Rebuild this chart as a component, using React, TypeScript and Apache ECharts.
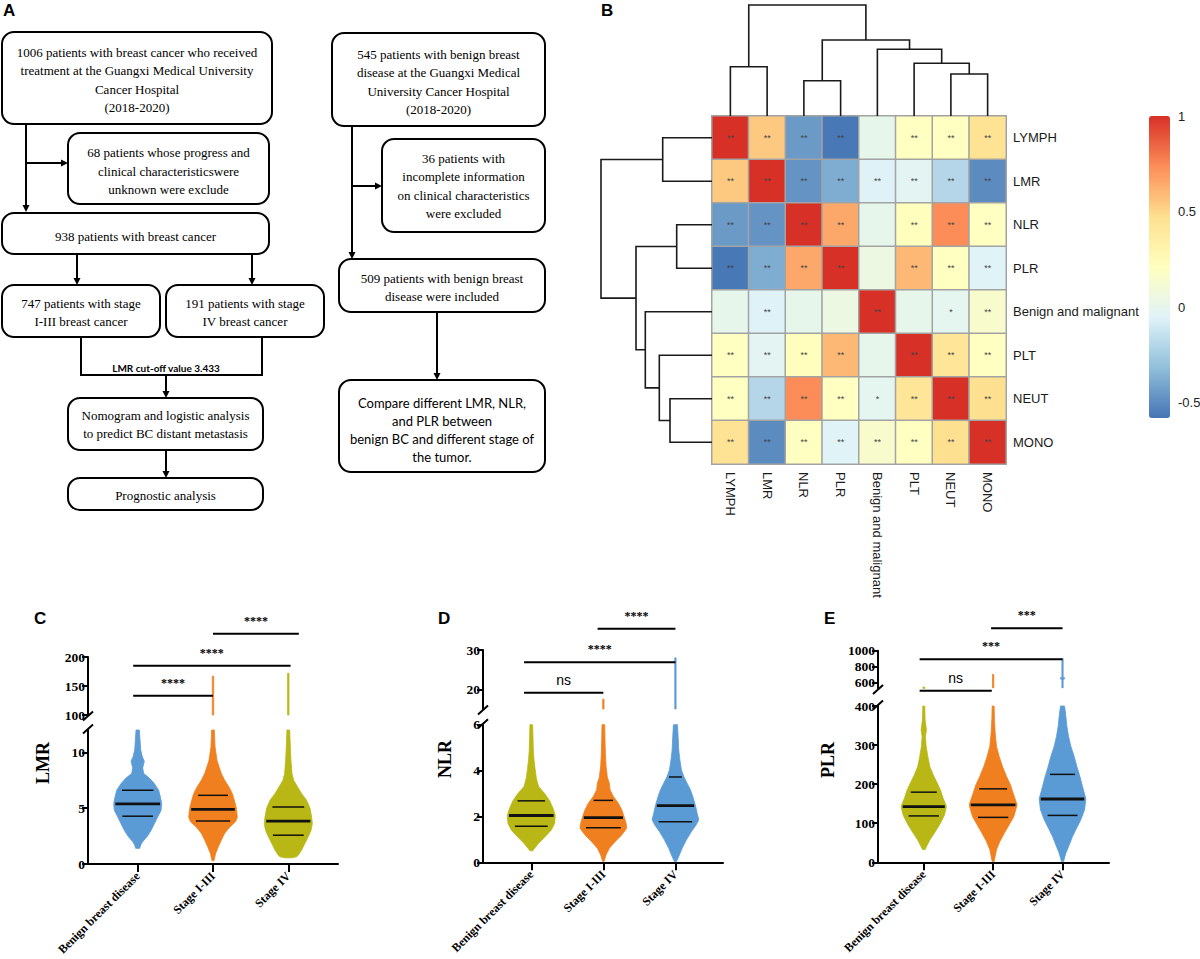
import React, { useEffect, useRef } from 'react';
import * as echarts from 'echarts';

// ---------------- fonts & colours ----------------
const SERIF = '"Liberation Serif","Times New Roman",serif';
const SANS = '"Liberation Sans",Arial,sans-serif';
const CALIBRI = 'Lato,"Liberation Sans",sans-serif';
const BLUE = '#5b9bd5';
const ORANGE = '#f07f1f';
const OLIVE = '#b8b716';

// ---------------- Panel A : flowchart texts ----------------
const flowTexts = [
  '1006 patients with breast cancer who received\ntreatment at the Guangxi Medical University\nCancer Hospital\n(2018-2020)',
  '68 patients whose progress and\nclinical characteristicswere\nunknown were exclude',
  '938 patients with breast cancer',
  '747 patients with stage\nI-III breast cancer',
  '191 patients with stage\nIV breast cancer',
  'Nomogram and logistic analysis\nto predict BC distant metastasis',
  'Prognostic analysis',
  '545 patients with benign breast\ndisease at the Guangxi Medical\nUniversity Cancer Hospital\n(2018-2020)',
  '36 patients with\nincomplete information\non clinical characteristics\nwere excluded',
  '509 patients with benign breast\ndisease were included',
  'Compare different LMR, NLR,\nand PLR between\nbenign BC and different stage of\nthe tumor.',
];
const cutoffText = 'LMR cut-off value 3.433';

// ---------------- Panel B : correlation heatmap ----------------
const heatVars = ['LYMPH', 'LMR', 'NLR', 'PLR', 'Benign and malignant', 'PLT', 'NEUT', 'MONO'];
const corrRows = [
  [1.0, 0.55, -0.45, -0.57, 0.01, 0.2, 0.2, 0.45],
  [0.55, 1.0, -0.47, -0.38, -0.06, -0.03, -0.2, -0.5],
  [-0.45, -0.47, 1.0, 0.65, 0.01, 0.22, 0.74, 0.2],
  [-0.57, -0.38, 0.65, 1.0, 0.05, 0.6, 0.2, -0.05],
  [0.01, -0.06, 0.01, 0.05, 1.0, 0.01, -0.01, 0.15],
  [0.2, -0.03, 0.22, 0.6, 0.01, 1.0, 0.43, 0.2],
  [0.2, -0.2, 0.74, 0.2, -0.01, 0.43, 1.0, 0.47],
  [0.45, -0.5, 0.2, -0.05, 0.15, 0.2, 0.47, 1.0],
];
const starRows = [
  ['**', '**', '**', '**', '', '**', '**', '**'],
  ['**', '**', '**', '**', '**', '**', '**', '**'],
  ['**', '**', '**', '**', '', '**', '**', '**'],
  ['**', '**', '**', '**', '', '**', '**', '**'],
  ['', '**', '', '', '**', '', '*', '**'],
  ['**', '**', '**', '**', '', '**', '**', '**'],
  ['**', '**', '**', '**', '*', '**', '**', '**'],
  ['**', '**', '**', '**', '**', '**', '**', '**'],
];
const colorbarRange = [-0.58, 1];
const colorbarTicks = [1, 0.5, 0, -0.5];
const heatColors = ['#4575B4', '#91BFDB', '#E0F3F8', '#FFFFBF', '#FEE090', '#FC8D59', '#D73027'];
// merges: [child A, child B, height]; leaves 0..7, merged nodes numbered from 8
const dendroMerges = [
  [2, 3, 35.3],
  [6, 7, 42],
  [0, 1, 49.3],
  [5, 9, 52.7],
  [4, 11, 66.7],
  [8, 12, 76],
  [10, 13, 111],
];
const dendroMax = 111;

// ---------------- Panels C, D, E : violins ----------------
const violinGroups = ['Benign breast disease', 'Stage I-III', 'Stage IV'];

// profiles: [value, half width in category units]
const lmrLow = [
  [[1.4, 0.027], [1.7, 0.04], [2.0, 0.066], [2.45, 0.124], [3.0, 0.177], [3.6, 0.221], [4.2, 0.265], [4.8, 0.31], [5.4, 0.319], [6.0, 0.301], [6.6, 0.279], [7.2, 0.221], [7.7, 0.155], [8.1, 0.08], [8.6, 0.066], [9.2, 0.088], [9.6, 0.062], [10.2, 0.04], [11.1, 0.031], [12, 0.022]],
  [[0.3, 0.013], [0.95, 0.035], [1.55, 0.071], [2.15, 0.111], [2.75, 0.155], [3.3, 0.221], [3.8, 0.301], [4.2, 0.323], [5.0, 0.31], [5.7, 0.283], [6.3, 0.257], [6.9, 0.212], [7.5, 0.155], [8.1, 0.111], [8.7, 0.08], [9.3, 0.053], [10.5, 0.027], [12, 0.018]],
  [[0.55, 0.044], [0.65, 0.11], [0.8, 0.135], [1.25, 0.177], [1.85, 0.221], [2.45, 0.265], [3.0, 0.301], [3.6, 0.319], [4.2, 0.31], [5.0, 0.288], [5.7, 0.243], [6.3, 0.177], [6.9, 0.124], [7.5, 0.071], [8.1, 0.049], [9.3, 0.035], [10.5, 0.027], [12, 0.018]],
];
const lmrUp = [[], [[100, 0.009], [167, 0.009]], [[100, 0.009], [172, 0.009]]];
const lmrQuartiles = [[4.28, 5.39, 6.6], [3.86, 4.9, 6.15], [2.58, 3.84, 5.1]];
const lmrBrackets = [[-0.06, 1.0, 133, '****'], [-0.06, 2.03, 185, '****'], [1.0, 2.14, 240, '****']];
const lmrLowTicks = [0, 5, 10];
const lmrUpTicks = [100, 150, 200];

const nlrLow = [
  [[0.5, 0.019], [0.61, 0.046], [0.83, 0.102], [1.12, 0.194], [1.41, 0.278], [1.7, 0.324], [2.04, 0.333], [2.36, 0.301], [2.68, 0.255], [3.0, 0.185], [3.3, 0.102], [3.5, 0.083], [3.7, 0.069], [4.1, 0.051], [4.5, 0.037], [4.9, 0.028], [5.5, 0.023], [6.0, 0.019]],
  [[0.03, 0.009], [0.32, 0.037], [0.61, 0.083], [0.9, 0.162], [1.19, 0.255], [1.48, 0.324], [1.7, 0.315], [2.0, 0.287], [2.29, 0.255], [2.58, 0.208], [2.87, 0.139], [3.16, 0.093], [3.45, 0.083], [3.7, 0.056], [4.2, 0.037], [4.75, 0.028], [5.3, 0.023], [6.0, 0.019]],
  [[0.03, 0.014], [0.25, 0.046], [0.61, 0.093], [0.98, 0.153], [1.34, 0.222], [1.63, 0.287], [1.85, 0.324], [2.14, 0.301], [2.47, 0.278], [2.87, 0.241], [3.16, 0.208], [3.45, 0.162], [3.74, 0.116], [4.03, 0.083], [4.5, 0.06], [4.9, 0.046], [5.5, 0.037], [6.0, 0.028]],
];
const nlrUp = [[], [[15, 0.009], [17.5, 0.009]], [[15, 0.009], [28, 0.009]]];
const nlrQuartiles = [[1.57, 2.04, 2.68], [1.51, 1.95, 2.7], [1.77, 2.47, 3.72]];
const nlrBrackets = [[-0.1, 1.0, 19.1, 'ns'], [-0.1, 2.0, 26.9, '****'], [0.92, 2.0, 35.4, '****']];
const nlrLowTicks = [0, 2, 4, 6];
const nlrUpTicks = [20, 30];

const plrLow = [
  [[33, 0.019], [40, 0.038], [57, 0.087], [79, 0.168], [100, 0.24], [121, 0.298], [143, 0.327], [164, 0.279], [185, 0.24], [207, 0.183], [224, 0.135], [245, 0.087], [271, 0.058], [297, 0.034], [322, 0.024], [339, 0.038], [365, 0.019], [400, 0.014]],
  [[2, 0.014], [32, 0.048], [53, 0.096], [74, 0.159], [96, 0.231], [117, 0.298], [147, 0.346], [177, 0.288], [198, 0.25], [220, 0.192], [245, 0.135], [271, 0.087], [297, 0.048], [331, 0.029], [365, 0.019], [400, 0.014]],
  [[2, 0.014], [23, 0.048], [44, 0.096], [66, 0.144], [87, 0.202], [109, 0.264], [134, 0.317], [162, 0.337], [194, 0.288], [220, 0.25], [245, 0.207], [271, 0.168], [297, 0.12], [322, 0.087], [348, 0.063], [374, 0.048], [400, 0.029]],
];
const plrUp = [
  [[522, 0.012], [540, 0.012]],
  [[530, 0.009], [700, 0.009]],
  [[530, 0.009], [635, 0.009], [642, 0.03], [658, 0.03], [665, 0.009], [900, 0.009]],
];
const plrQuartiles = [[118.7, 142.6, 179.5], [115, 147, 188], [120, 162, 225]];
const plrBrackets = [[-0.06, 0.98, 494, 'ns'], [-0.06, 2.0, 891, '***'], [0.97, 2.0, 1283, '***']];
const plrLowTicks = [0, 100, 200, 300, 400];
const plrUpTicks = [600, 800, 1000];

// ---------------- layout (pixels) ----------------
const flowLayout = [
  { x: 2, y: 32, w: 270, h: 92, cy: 80, font: 'serif' },
  { x: 68, y: 133, w: 201, h: 71, cy: 171, font: 'serif' },
  { x: 2, y: 213, w: 267, h: 41, cy: 236, font: 'serif' },
  { x: 2, y: 285, w: 158, h: 52, cy: 312.5, font: 'serif' },
  { x: 166, y: 285, w: 158, h: 52, cy: 312.5, font: 'serif' },
  { x: 68, y: 398, w: 195, h: 52, cy: 424.5, font: 'serif' },
  { x: 68, y: 478, w: 195, h: 32, cy: 495, font: 'serif' },
  { x: 332, y: 33, w: 213, h: 93, cy: 82, font: 'serif' },
  { x: 382, y: 139, w: 163, h: 93, cy: 186, font: 'serif' },
  { x: 339, y: 259, w: 206, h: 53, cy: 287.5, font: 'serif' },
  { x: 339, y: 380, w: 206, h: 92, cy: 430, font: 'sans' },
];
const flowArrows = [
  { pts: [[26, 124], [26, 212]], head: 'down' },
  { pts: [[26, 163], [68, 163]], head: 'right' },
  { pts: [[77, 254], [77, 285]], head: 'down' },
  { pts: [[252, 254], [252, 285]], head: 'down' },
  { pts: [[81, 337], [81, 375], [262, 375], [262, 337]], head: '' },
  { pts: [[166, 375], [166, 398]], head: 'down' },
  { pts: [[166, 450], [166, 478]], head: 'down' },
  { pts: [[352, 126], [352, 259]], head: 'down' },
  { pts: [[352, 186], [382, 186]], head: 'right' },
  { pts: [[437, 312], [437, 380]], head: 'down' },
];

const panels = [
  { name: 'LMR', letter: 'C', colors: [BLUE, ORANGE, OLIVE], low: lmrLow, up: lmrUp, quart: lmrQuartiles, brackets: lmrBrackets, lowTicks: lmrLowTicks, upTicks: lmrUpTicks, lowRange: [0, 12], upRange: [100, 200],
    axisX: 88, right: 338, lowTop: 730, lowBottom: 864, upTop: 657, upBottom: 715, xMin: -0.66, xMax: 2.66, titleX: 43, titleY: 763, letterX: 34, letterY: 610 },
  { name: 'NLR', letter: 'D', colors: [OLIVE, ORANGE, BLUE], low: nlrLow, up: nlrUp, quart: nlrQuartiles, brackets: nlrBrackets, lowTicks: nlrLowTicks, upTicks: nlrUpTicks, lowRange: [0, 6], upRange: [15, 30],
    axisX: 483, right: 723, lowTop: 724.7, lowBottom: 862.3, upTop: 650, upBottom: 709, xMin: -0.67, xMax: 2.66, titleX: 445, titleY: 759, letterX: 438, letterY: 610 },
  { name: 'PLR', letter: 'E', colors: [OLIVE, ORANGE, BLUE], low: plrLow, up: plrUp, quart: plrQuartiles, brackets: plrBrackets, lowTicks: plrLowTicks, upTicks: plrUpTicks, lowRange: [0, 400], upRange: [520, 1000],
    axisX: 878, right: 1109, lowTop: 706, lowBottom: 862.3, upTop: 650.7, upBottom: 688.6, xMin: -0.66, xMax: 2.67, titleX: 828, titleY: 760, letterX: 824, letterY: 610 },
];

function widthAt(prof: number[][], v: number) {
  for (let i = 0; i < prof.length - 1; i++) {
    const [v0, w0] = prof[i];
    const [v1, w1] = prof[i + 1];
    if (v >= v0 && v <= v1) return w0 + ((w1 - w0) * (v - v0)) / (v1 - v0 || 1);
  }
  return 0;
}

function violinRenderer(profiles: number[][][], quartiles: number[][] | null, colors: string[]) {
  return (params: any, api: any) => {
    const i = params.dataIndex;
    const prof = profiles[i];
    if (!prof || prof.length < 2) return { type: 'group', children: [] };
    const pts: number[][] = [];
    for (const [v, w] of prof) pts.push(api.coord([i - w, v]));
    for (let j = prof.length - 1; j >= 0; j--) pts.push(api.coord([i + prof[j][1], prof[j][0]]));
    const children: any[] = [
      { type: 'polygon', shape: { points: pts }, style: { fill: colors[i], stroke: colors[i], lineWidth: 0.8 } },
    ];
    if (quartiles) {
      quartiles[i].forEach((q, k) => {
        const w = widthAt(prof, q) * (k === 1 ? 0.93 : 0.75);
        const p1 = api.coord([i - w, q]);
        const p2 = api.coord([i + w, q]);
        children.push({
          type: 'line',
          shape: { x1: p1[0], y1: p1[1], x2: p2[0], y2: p2[1] },
          style: { stroke: '#111', lineWidth: k === 1 ? 2.8 : 1.5 },
        });
      });
    }
    return { type: 'group', children };
  };
}

function bracketRenderer(brackets: any[][]) {
  return (params: any, api: any) => {
    const [x1, x2, y, label] = brackets[params.dataIndex];
    const p1 = api.coord([x1, y]);
    const p2 = api.coord([x2, y]);
    const isNs = label === 'ns';
    return {
      type: 'group',
      children: [
        { type: 'line', shape: { x1: p1[0], y1: p1[1], x2: p2[0], y2: p2[1] }, style: { stroke: '#000', lineWidth: 2 } },
        {
          type: 'text',
          style: {
            text: label,
            x: (p1[0] + p2[0]) / 2,
            y: p1[1] - (isNs ? 6 : 7),
            align: 'center',
            verticalAlign: 'bottom',
            fontSize: isNs ? 14 : 12,
            fontFamily: isNs ? SANS : SERIF,
            fontWeight: isNs ? 'normal' : 'bold',
            fill: '#000',
            stroke: null,
            lineWidth: 0,
          },
        },
      ],
    };
  };
}

function buildOption() {
  const grids: any[] = [];
  const xAxes: any[] = [];
  const yAxes: any[] = [];
  const series: any[] = [];
  const graphics: any[] = [];
  const g = (o: any) => ({ ...o, containLabel: false, outerBoundsMode: 'none' });

  // ---- heatmap ----
  const hmLeft = 712, hmTop = 116, hmW = 294, hmH = 348;
  grids.push(g({ left: hmLeft, top: hmTop, width: hmW, height: hmH }));
  xAxes.push({
    gridIndex: 0, type: 'category', data: heatVars,
    axisLine: { show: false }, axisTick: { show: false }, splitLine: { show: false },
    axisLabel: { rotate: -90, margin: 8, fontSize: 13, fontFamily: SANS, color: '#1a1a1a', interval: 0 },
  });
  yAxes.push({
    gridIndex: 0, type: 'category', data: heatVars, inverse: true, position: 'right',
    axisLine: { show: false }, axisTick: { show: false }, splitLine: { show: false },
    axisLabel: { margin: 7, fontSize: 13, fontFamily: SANS, color: '#1a1a1a', interval: 0 },
  });
  const heatData: number[][] = [];
  corrRows.forEach((row, y) => row.forEach((v, x) => heatData.push([x, y, v])));
  series.push({
    type: 'heatmap', xAxisIndex: 0, yAxisIndex: 0, data: heatData, z: 2,
    itemStyle: { borderColor: '#a3a3a3', borderWidth: 1.5 },
    label: {
      show: true, fontSize: 9, color: '#444', fontFamily: SANS,
      formatter: (p: any) => starRows[p.data[1]][p.data[0]],
    },
    emphasis: { disabled: true },
  });

  // ---- dendrograms ----
  const nodePos: number[] = [0, 1, 2, 3, 4, 5, 6, 7];
  const nodeH: number[] = [0, 0, 0, 0, 0, 0, 0, 0];
  dendroMerges.forEach(([a, b, h]) => {
    nodePos.push((nodePos[a] + nodePos[b]) / 2);
    nodeH.push(h);
  });
  grids.push(g({ left: hmLeft, top: hmTop - dendroMax, width: hmW, height: dendroMax }));
  xAxes.push({ gridIndex: 1, type: 'value', min: -0.5, max: 7.5, show: false });
  yAxes.push({ gridIndex: 1, type: 'value', min: 0, max: dendroMax, show: false });
  grids.push(g({ left: hmLeft - dendroMax, top: hmTop, width: dendroMax, height: hmH }));
  xAxes.push({ gridIndex: 2, type: 'value', min: 0, max: dendroMax, inverse: true, show: false });
  yAxes.push({ gridIndex: 2, type: 'value', min: -0.5, max: 7.5, inverse: true, show: false });
  const dendroItem = (flip: boolean) => (params: any, api: any) => {
    const [a, b, h] = dendroMerges[params.dataIndex];
    const raw = [[nodePos[a], nodeH[a]], [nodePos[a], h], [nodePos[b], h], [nodePos[b], nodeH[b]]];
    const pts = raw.map((p) => api.coord(flip ? [p[1], p[0]] : p));
    return { type: 'polyline', shape: { points: pts }, style: { stroke: '#1a1a1a', lineWidth: 1.6, fill: null } };
  };
  series.push({ type: 'custom', xAxisIndex: 1, yAxisIndex: 1, data: dendroMerges.map((m, i) => [i, 0]), renderItem: dendroItem(false), clip: false, silent: true });
  series.push({ type: 'custom', xAxisIndex: 2, yAxisIndex: 2, data: dendroMerges.map((m, i) => [0, i]), renderItem: dendroItem(true), clip: false, silent: true });

  // colour bar labels
  const cbTop = 116, cbH = 302, cbLeft = 1149;
  colorbarTicks.forEach((v) => {
    graphics.push({
      type: 'text', x: 1178, y: cbTop + ((colorbarRange[1] - v) / (colorbarRange[1] - colorbarRange[0])) * cbH,
      style: { text: String(v), fontSize: 13, fontFamily: SANS, fill: '#222', align: 'left', verticalAlign: 'middle' },
    });
  });

  // ---- violin panels ----
  panels.forEach((p, k) => {
    const lo = 3 + 2 * k;
    const up = 4 + 2 * k;
    const w = p.right - p.axisX;
    grids.push(g({ left: p.axisX, top: p.lowTop, width: w, height: p.lowBottom - p.lowTop }));
    grids.push(g({ left: p.axisX, top: p.upTop, width: w, height: p.upBottom - p.upTop }));
    xAxes.push({
      gridIndex: lo, type: 'value', min: p.xMin, max: p.xMax,
      axisLine: { show: true, onZero: false, lineStyle: { color: '#000', width: 2 } },
      axisTick: { show: true, customValues: [0, 1, 2], length: 8, lineStyle: { color: '#000', width: 2 } },
      axisLabel: {
        customValues: [0, 1, 2], formatter: (v: number) => violinGroups[Math.round(v)] || '',
        rotate: 45, margin: 10, fontSize: 12, fontFamily: SERIF, fontWeight: 'bold', color: '#000',
      },
      splitLine: { show: false },
    });
    xAxes.push({ gridIndex: up, type: 'value', min: p.xMin, max: p.xMax, show: false });
    const yAx = (gi: number, range: number[], ticks: number[]) => ({
      gridIndex: gi, type: 'value', min: range[0], max: range[1],
      axisLine: { show: true, onZero: false, lineStyle: { color: '#000', width: 2 } },
      axisTick: { show: true, customValues: ticks, length: 6, lineStyle: { color: '#000', width: 2 } },
      axisLabel: {
        customValues: ticks, formatter: (v: number) => String(v),
        margin: 3, fontSize: 13.5, fontFamily: SERIF, fontWeight: 'bold', color: '#000',
      },
      splitLine: { show: false },
    });
    yAxes.push(yAx(lo, p.lowRange, p.lowTicks));
    yAxes.push(yAx(up, p.upRange, p.upTicks));

    series.push({
      type: 'custom', xAxisIndex: lo, yAxisIndex: lo, data: [0, 1, 2].map((i) => [i, p.lowRange[0]]),
      renderItem: violinRenderer(p.low, p.quart, p.colors), clip: false, silent: true, z: 3,
    });
    series.push({
      type: 'custom', xAxisIndex: up, yAxisIndex: up, data: [0, 1, 2].map((i) => [i, p.upRange[0]]),
      renderItem: violinRenderer(p.up, null, p.colors), clip: false, silent: true, z: 3,
    });
    series.push({
      type: 'custom', xAxisIndex: up, yAxisIndex: up, data: p.brackets.map((b, i) => [i, p.upRange[0]]),
      renderItem: bracketRenderer(p.brackets), clip: false, silent: true, z: 4,
      itemStyle: { color: '#000' },
    });

    // break marks
    [p.upBottom + 1, p.lowTop - 1].forEach((yy) => {
      graphics.push({
        type: 'line', shape: { x1: p.axisX - 5, y1: yy + 4.5, x2: p.axisX + 5, y2: yy - 4.5 },
        style: { stroke: '#000', lineWidth: 2 },
      });
    });
    graphics.push({
      type: 'text', x: p.titleX, y: p.titleY, rotation: Math.PI / 2,
      style: { text: p.name, fontSize: 18, fontWeight: 'bold', fontFamily: SERIF, fill: '#000', align: 'center', verticalAlign: 'middle' },
    });
    graphics.push({
      type: 'text', x: p.letterX, y: p.letterY,
      style: { text: p.letter, fontSize: 17, fontWeight: 'bold', fontFamily: SANS, fill: '#000', align: 'left', verticalAlign: 'top' },
    });
  });

  // ---- panel letters A, B ----
  graphics.push({ type: 'text', x: 3, y: 2, style: { text: 'A', fontSize: 17, fontWeight: 'bold', fontFamily: SANS, fill: '#000', align: 'left', verticalAlign: 'top' } });
  graphics.push({ type: 'text', x: 601, y: 2, style: { text: 'B', fontSize: 17, fontWeight: 'bold', fontFamily: SANS, fill: '#000', align: 'left', verticalAlign: 'top' } });

  // ---- flowchart ----
  flowArrows.forEach((a) => {
    const pts = a.pts.map((q) => [q[0], q[1]]);
    const last = pts[pts.length - 1];
    if (a.head === 'down') last[1] -= 5;
    if (a.head === 'right') last[0] -= 5;
    graphics.push({ type: 'polyline', shape: { points: pts }, style: { stroke: '#000', lineWidth: 2, fill: null } });
    const [tx, ty] = a.pts[a.pts.length - 1];
    if (a.head === 'down') {
      graphics.push({ type: 'polygon', shape: { points: [[tx - 3.5, ty - 7], [tx + 3.5, ty - 7], [tx, ty]] }, style: { fill: '#000' } });
    } else if (a.head === 'right') {
      graphics.push({ type: 'polygon', shape: { points: [[tx - 7, ty - 3.5], [tx - 7, ty + 3.5], [tx, ty]] }, style: { fill: '#000' } });
    }
  });
  flowLayout.forEach((b, i) => {
    graphics.push({ type: 'rect', shape: { x: b.x, y: b.y, width: b.w, height: b.h, r: 12 }, style: { fill: '#fff', stroke: '#000', lineWidth: 2 } });
    const sans = b.font === 'sans';
    graphics.push({
      type: 'text', x: b.x + b.w / 2, y: b.cy,
      style: {
        text: flowTexts[i], fontSize: 13, fontFamily: sans ? CALIBRI : SERIF, fill: '#000',
        align: 'center', verticalAlign: 'middle', lineHeight: sans ? 17.8 : 18.5,
      },
    });
  });
  graphics.push({
    type: 'text', x: 166, y: 368,
    style: { text: cutoffText, fontSize: 10, fontWeight: 'bold', fontFamily: CALIBRI, fill: '#000', align: 'center', verticalAlign: 'middle' },
  });

  return {
    animation: false,
    backgroundColor: '#fff',
    grid: grids,
    xAxis: xAxes,
    yAxis: yAxes,
    visualMap: {
      type: 'continuous', min: colorbarRange[0], max: colorbarRange[1], seriesIndex: 0, dimension: 2,
      calculable: false, orient: 'vertical', left: cbLeft, top: cbTop, itemWidth: 21, itemHeight: cbH, padding: 0,
      inRange: { color: heatColors },
    },
    series,
    graphic: { elements: graphics },
  };
}

export default function App() {
  const ref = useRef<HTMLDivElement>(null);
  useEffect(() => {
    if (!ref.current) return;
    const chart = echarts.init(ref.current, undefined, { renderer: 'svg' });
    chart.setOption(buildOption() as any);
    return () => chart.dispose();
  }, []);
  return <div ref={ref} style={{ position: 'absolute', left: 0, top: 0, width: 1200, height: 959, background: '#fff' }} />;
}
